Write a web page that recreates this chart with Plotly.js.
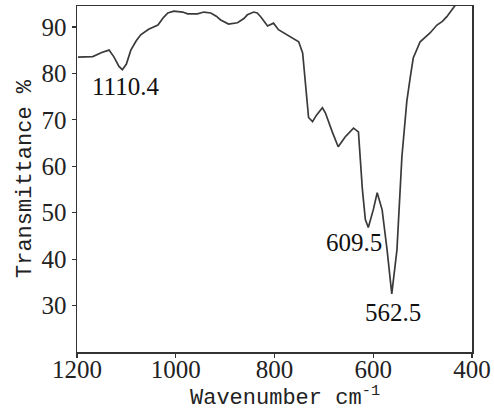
<!DOCTYPE html>
<html>
<head>
<meta charset="utf-8">
<script src="https://cdn.plot.ly/plotly-3.0.1.min.js"></script>
<style>html,body{margin:0;padding:0;background:#fff;}#chart{width:494px;height:410px;}</style>
</head>
<body>
<div id="chart"></div>
<script>
const wavenumber = [1198,1185,1168,1150,1135,1125,1115,1108,1100,1091,1080,1071,1055,1036,1025,1016,1004,986,976,956,943,929,918,909,893,875,862,855,842,835,828,814,802,792,768,751,743,737,731,723,715,703,697,683,671,657,640,630,622,616,610,600,592,582,572,562.5,552,542,532,525,519,505,495,485,471,460,451,434,428];
const transmittance = [83.5,83.6,83.6,84.5,85,83.5,81.5,80.8,82,85,87,88.3,89.5,90.4,92,93,93.4,93.2,92.8,92.8,93.2,93,92.3,91.5,90.6,90.9,91.8,92.6,93.2,93,92.2,90.2,90.8,89.4,87.8,86.8,84.4,77,70.5,69.6,71,72.6,71.5,67.4,64.2,66.3,68.2,67.4,55,48.5,46.8,50.6,54.3,50.6,42,32.5,42,62,74,79.2,83.3,86.8,87.8,88.7,90.4,91.2,92.2,94.5,95.5];
const xTicks = [1200,1000,800,600,400];
const yTicks = [30,40,50,60,70,80,90];
const peakLabels = ["1110.4","609.5","562.5"];
const peakLabelX = [1101,640,560];
const peakLabelY = [77.1,43.5,28.5];

const serif = "Liberation Serif, Times New Roman, serif";
const mono = "Liberation Mono, Courier New, monospace";

const trace = {
  x: wavenumber, y: transmittance, type: "scatter", mode: "lines",
  line: {color: "#3a3a3a", width: 1.7}, hoverinfo: "skip"
};
const labelAxisTrace = {
  x: [], y: [], xaxis: "x2", yaxis: "y", type: "scatter", mode: "lines", showlegend: false, hoverinfo: "skip"
};

const annotations = peakLabels.map((t, i) => ({
  x: peakLabelX[i], y: peakLabelY[i], xref: "x", yref: "y",
  text: t, showarrow: false, xanchor: "center", yanchor: "middle",
  font: {family: serif, size: 25, color: "#111"}
}));
annotations.push({
  x: 0.5, y: 0, xref: "paper", yref: "paper", xanchor: "center", yanchor: "middle",
  yshift: -44, xshift: 10, showarrow: false,
  text: "Wavenumber cm<sup>-1</sup>",
  font: {family: mono, size: 22, color: "#222"}
});

const layout = {
  width: 494, height: 410,
  margin: {l: 77, r: 22, t: 6, b: 58},
  paper_bgcolor: "#fff", plot_bgcolor: "#fff",
  showlegend: false,
  xaxis: {
    range: [1200, 400], tickvals: xTicks, showticklabels: false,
    showgrid: false, zeroline: false, showline: true, mirror: true,
    linecolor: "#333", linewidth: 1.5, ticks: "outside", ticklen: 4, tickwidth: 1.2, tickcolor: "#333"
  },
  xaxis2: {
    overlaying: "x", matches: "x", anchor: "free", position: 0, side: "bottom",
    range: [1200, 400], tickvals: xTicks, ticktext: xTicks.map(String),
    showgrid: false, zeroline: false, showline: false, ticks: "",
    tickfont: {family: serif, size: 25, color: "#222"}
  },
  yaxis: {
    range: [20, 94.5], tickvals: yTicks, ticktext: yTicks.map(String),
    showgrid: false, zeroline: false, showline: true, mirror: true,
    linecolor: "#333", linewidth: 1.5, ticks: "outside", ticklen: 4, tickwidth: 1.2, tickcolor: "#333",
    tickfont: {family: serif, size: 25, color: "#222"},
    title: {text: "Transmittance %", font: {family: mono, size: 22, color: "#222"}, standoff: 4}
  },
  annotations: annotations
};

Plotly.newPlot("chart", [trace, labelAxisTrace], layout, {displayModeBar: false, staticPlot: true});
</script>
</body>
</html>
